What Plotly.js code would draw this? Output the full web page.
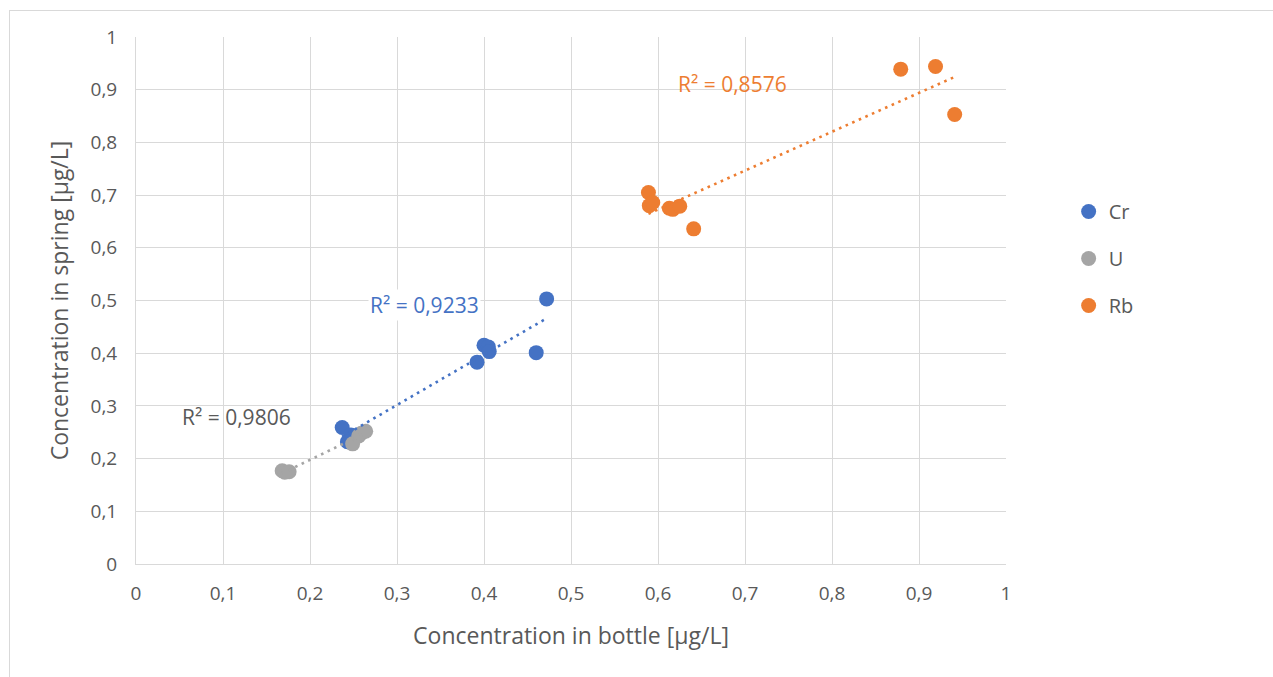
<!DOCTYPE html>
<html>
<head>
<meta charset="utf-8">
<script src="https://cdn.plot.ly/plotly-3.0.1.min.js"></script>
<style>
  html, body { margin: 0; padding: 0; background: #fff; }
  #wrap { position: relative; width: 1273px; height: 677px; overflow: hidden; }
  #chart { width: 1273px; height: 677px; }
  #frame { position: absolute; left: 9px; top: 10px; width: 1400px; height: 800px;
           border-left: 1px solid #d9d9d9; border-top: 1px solid #d9d9d9; pointer-events: none; }
</style>
</head>
<body>
<div id="wrap"><div id="chart"></div><div id="frame"></div></div>
<script>
// ---- data ----
const seriesNames = ["Cr", "U", "Rb"];
const seriesColors = ["#4472C4", "#A5A5A5", "#ED7D31"];

const crX = [0.237, 0.247, 0.243, 0.392, 0.400, 0.405, 0.406, 0.460, 0.472];
const crY = [0.259, 0.245, 0.232, 0.383, 0.415, 0.412, 0.403, 0.401, 0.503];

const uX = [0.168, 0.171, 0.176, 0.249, 0.256, 0.259, 0.264];
const uY = [0.177, 0.174, 0.175, 0.228, 0.243, 0.248, 0.252];

const rbX = [0.589, 0.590, 0.594, 0.613, 0.617, 0.625, 0.641, 0.879, 0.919, 0.941];
const rbY = [0.705, 0.680, 0.686, 0.675, 0.673, 0.679, 0.636, 0.939, 0.944, 0.853];

const r2Labels = ["R² = 0,9233", "R² = 0,9806", "R² = 0,8576"];
const r2LabelPos = [[0.332, 0.491], [0.115, 0.279], [0.686, 0.911]];

const tickVals = [0, 0.1, 0.2, 0.3, 0.4, 0.5, 0.6, 0.7, 0.8, 0.9, 1];
const tickText = ["0", "0,1", "0,2", "0,3", "0,4", "0,5", "0,6", "0,7", "0,8", "0,9", "1"];

const xTitle = "Concentration in bottle [µg/L]";
const yTitle = "Concentration in spring [µg/L]";

// ---- build ----
const allX = [crX, uX, rbX];
const allY = [crY, uY, rbY];

function linfit(xs, ys) {
  const n = xs.length;
  const mx = xs.reduce((a, b) => a + b, 0) / n;
  const my = ys.reduce((a, b) => a + b, 0) / n;
  let sxy = 0, sxx = 0;
  for (let i = 0; i < n; i++) { sxy += (xs[i] - mx) * (ys[i] - my); sxx += (xs[i] - mx) ** 2; }
  const b = sxy / sxx;
  return { b: b, a: my - b * mx };
}

const FONT = "Open Sans, sans-serif";
const traces = [];
for (let s = 0; s < 3; s++) {
  traces.push({
    type: "scatter", mode: "markers", name: seriesNames[s],
    x: allX[s], y: allY[s], legendgroup: "g" + s,
    marker: { color: seriesColors[s], size: 15 },
    hoverinfo: "x+y"
  });
}
for (let s = 0; s < 3; s++) {
  const f = linfit(allX[s], allY[s]);
  const x0 = Math.min(...allX[s]), x1 = Math.max(...allX[s]);
  traces.push({
    type: "scatter", mode: "lines", showlegend: false,
    x: [x0, x1], y: [f.a + f.b * x0, f.a + f.b * x1],
    line: { color: seriesColors[s], width: 2.6, dash: "2.6px,4.6px" },
    hoverinfo: "skip"
  });
}

const labelColors = ["#4472C4", "#595959", "#ED7D31"];
const annotations = r2Labels.map((t, i) => ({
  x: r2LabelPos[i][0], y: r2LabelPos[i][1], xref: "x", yref: "y",
  text: t, showarrow: false,
  font: { family: FONT, size: 21, color: labelColors[i] },
  bgcolor: i === 0 ? "#ffffff" : "rgba(0,0,0,0)", borderpad: 1
}));

const axisCommon = {
  range: [0, 1], tickvals: tickVals, ticktext: tickText,
  showgrid: true, gridcolor: "#d9d9d9", gridwidth: 1,
  zeroline: false, showline: true, linecolor: "#d9d9d9", linewidth: 1,
  ticks: "", fixedrange: true,
  tickfont: { family: FONT, size: 19, color: "#595959" }
};

const layout = {
  width: 1273, height: 677,
  margin: { l: 136, r: 267, t: 37, b: 113 },
  paper_bgcolor: "#ffffff", plot_bgcolor: "#ffffff",
  showlegend: true,
  legend: {
    x: 1.072, y: 0.706, xanchor: "left", yanchor: "top",
    font: { family: FONT, size: 20, color: "#595959" },
    tracegroupgap: 18, traceorder: "grouped", itemsizing: "trace", itemwidth: 30
  },
  xaxis: Object.assign({}, axisCommon, {
    title: { text: xTitle, standoff: 23, font: { family: FONT, size: 23, color: "#595959" } },
    ticklabelstandoff: 12
  }),
  yaxis: Object.assign({}, axisCommon, {
    title: { text: yTitle, standoff: 15, font: { family: FONT, size: 23, color: "#595959" } },
    ticklabelstandoff: 14
  }),
  annotations: annotations
};

Plotly.newPlot("chart", traces, layout, { displayModeBar: false, staticPlot: true });
</script>
</body>
</html>
